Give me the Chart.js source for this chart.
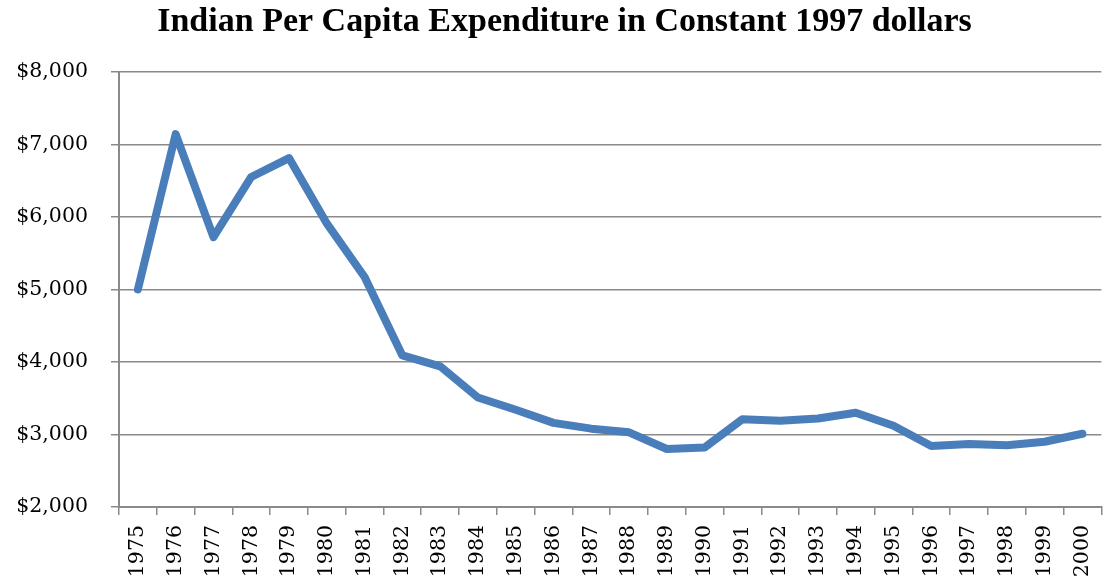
<!DOCTYPE html>
<html>
<head>
<meta charset="utf-8">
<script src="https://cdn.jsdelivr.net/npm/chart.js@4/dist/chart.umd.min.js"></script>
<style>
  html, body { margin: 0; padding: 0; background: #fff; overflow: hidden; }
  #wrap { width: 1109px; height: 583px; overflow: hidden; }
</style>
</head>
<body>
<div id="wrap"><canvas id="myChart" width="1117" height="583"></canvas></div>
<script>
const years = ['1975', '1976', '1977', '1978', '1979', '1980', '1981', '1982', '1983', '1984',
  '1985', '1986', '1987', '1988', '1989', '1990', '1991', '1992', '1993', '1994',
  '1995', '1996', '1997', '1998', '1999', '2000'];
const expenditure = [5000, 7140, 5720, 6550, 6810, 5910, 5170, 4090, 3940, 3510,
  3340, 3160, 3080, 3030, 2800, 2820, 3210, 3190, 3220, 3300,
  3120, 2840, 2870, 2850, 2900, 3010];
const yMin = 2000;
const yMax = 8000;
const yStep = 1000;
const titleText = 'Indian Per Capita Expenditure in Constant 1997 dollars';

const gridGray = '#8a8a8a';
const tickFont = { family: "'DejaVu Serif', serif", size: 20.5 };

new Chart(document.getElementById('myChart').getContext('2d'), {
  type: 'line',
  data: {
    labels: years,
    datasets: [
      {
        data: expenditure,
        borderColor: '#4a7ebb',
        borderWidth: 8,
        borderCapStyle: 'round',
        borderJoinStyle: 'round',
        pointRadius: 0,
        tension: 0,
        fill: false,
      },
    ],
  },
  options: {
    responsive: false,
    animation: false,
    layout: { padding: { left: 12, right: 0, top: 0, bottom: 0 } },
    plugins: {
      legend: { display: false },
      tooltip: { enabled: false },
      title: {
        display: true,
        text: titleText,
        color: '#000',
        font: { family: "'Liberation Serif', serif", size: 34, weight: 'bold' },
        padding: { top: 2, bottom: 29 },
      },
    },
    scales: {
      x: {
        offset: true,
        grid: {
          offset: true,
          drawOnChartArea: false,
          drawTicks: true,
          tickLength: 8,
          color: gridGray,
          lineWidth: 1.5,
        },
        border: { color: gridGray, width: 2 },
        ticks: {
          autoSkip: false,
          minRotation: 90,
          maxRotation: 90,
          padding: 10,
          color: '#000',
          font: tickFont,
        },
        afterFit(scale) {
          scale.height = 76;
        },
      },
      y: {
        min: yMin,
        max: yMax,
        grid: {
          color: gridGray,
          lineWidth: 1.5,
          tickLength: 8,
        },
        border: { color: gridGray, width: 2 },
        ticks: {
          stepSize: yStep,
          padding: 23,
          color: '#000',
          font: tickFont,
          callback(value) {
            return `$${value.toLocaleString('en-US')}`;
          },
        },
        afterFit(scale) {
          scale.width = 107;
        },
      },
    },
  },
});
</script>
</body>
</html>
